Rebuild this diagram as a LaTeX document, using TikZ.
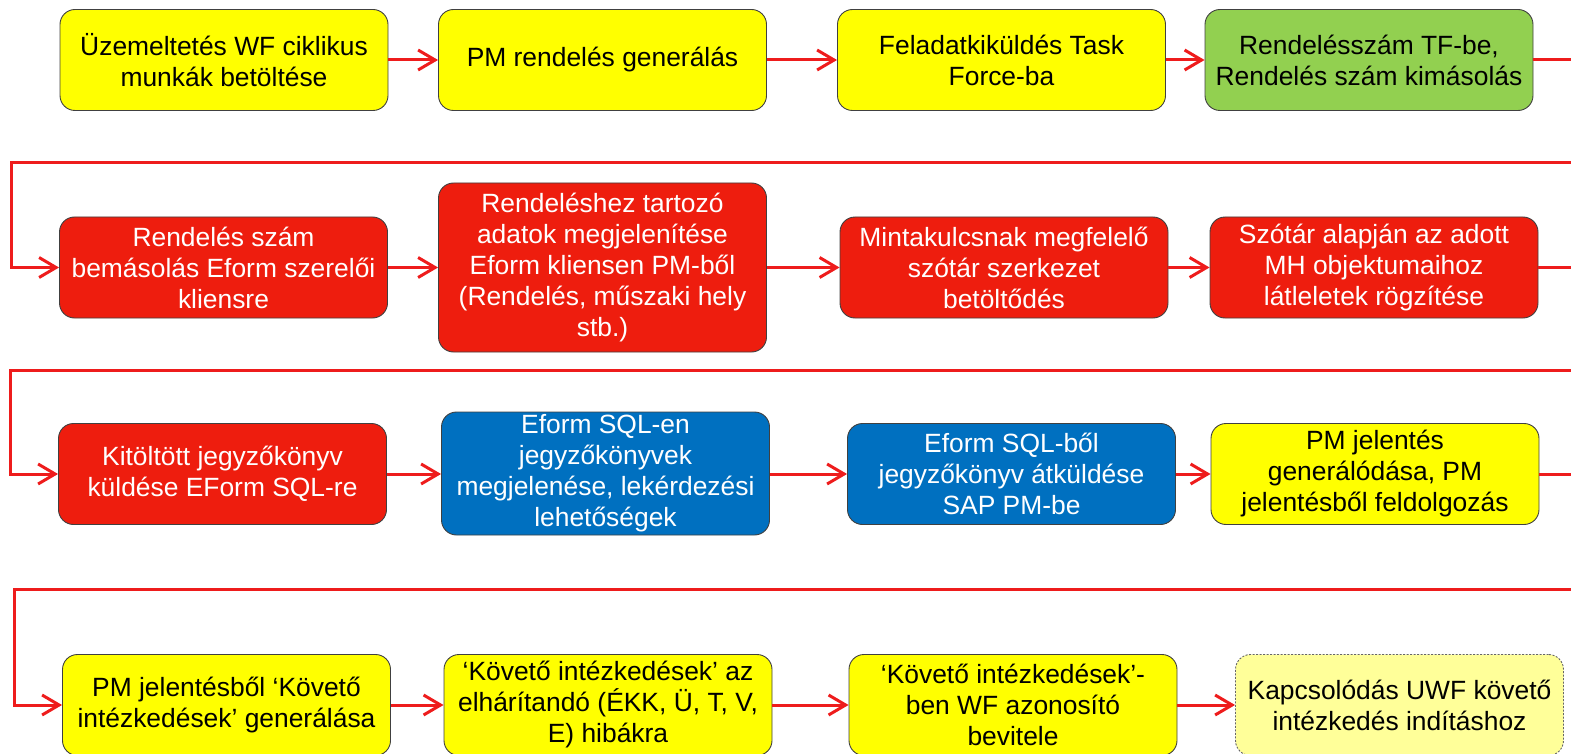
\documentclass[tikz,border=0pt]{standalone}
\usepackage{fontspec}
\setmainfont{Liberation Sans}
\usetikzlibrary{arrows.meta}
\definecolor{boxyellow}{HTML}{FFFF00}
\definecolor{boxpale}{HTML}{FFFF99}
\definecolor{boxgreen}{HTML}{92D050}
\definecolor{boxred}{HTML}{EE1D0E}
\definecolor{boxblue}{HTML}{0070C0}
\definecolor{boxline}{HTML}{404040}
\definecolor{flowred}{HTML}{EE1C1C}
\begin{document}
\begin{tikzpicture}[x=1pt,y=-1pt,
  box/.style={draw=boxline, line width=0.9pt, rounded corners=15pt,
    minimum width=328pt, minimum height=101pt, align=center, inner sep=0pt,
    font=\fontsize{26.4}{31}\selectfont},
  yel/.style={box, fill=boxyellow, text=black},
  pale/.style={box, fill=boxpale, text=black, draw=boxline!80,
    dash pattern=on 2pt off 1.5pt},
  grn/.style={box, fill=boxgreen, text=black},
  redbox/.style={box, fill=boxred, text=white},
  blu/.style={box, fill=boxblue, text=white},
  flow/.style={draw=flowred, line width=3pt,
    -{Straight Barb[length=17pt,width=20pt]}}]
\clip (0,0) rectangle (1571,754);

% first row
\node[yel] (A) at (224,60) {Üzemeltetés WF ciklikus\\munkák betöltése};
\node[yel] (B) at (602.5,60) {PM rendelés generálás};
\node[yel] (C) at (1001.5,60) {Feladatkiküldés Task\\Force-ba};
\node[grn] (D) at (1369,60) {Rendelésszám TF-be,\\Rendelés szám kimásolás};

% second row
\node[redbox] (E) at (223.5,267.5) {Rendelés szám\\bemásolás Eform szerelői\\kliensre};
\node[redbox, minimum height=169pt] (F) at (602.5,267.5)
  {Rendeléshez tartozó\\adatok megjelenítése\\Eform kliensen PM-ből\\(Rendelés, műszaki hely\\stb.)};
\node[redbox] (G) at (1004,267.5) {Mintakulcsnak megfelelő\\szótár szerkezet\\betöltődés};
\node[redbox] (H) at (1374,267.5) {Szótár alapján az adott\\MH objektumaihoz\\látleletek rögzítése};

% third row
\node[redbox] (I) at (222.5,474) {Kitöltött jegyzőkönyv\\küldése EForm SQL-re};
\node[blu, minimum height=123pt] (J) at (605.5,473.5)
  {Eform SQL-en\\jegyzőkönyvek\\megjelenése, lekérdezési\\lehetőségek};
\node[blu] (K) at (1011.5,474) {Eform SQL-ből\\jegyzőkönyv átküldése\\SAP PM-be};
\node[yel] (L) at (1375,474) {PM jelentés\\generálódása, PM\\jelentésből feldolgozás};

% fourth row
\node[yel] (M) at (226.5,705) {PM jelentésből ‘Követő\\intézkedések’ generálása};
\node[yel] (N) at (608,705) {‘Követő intézkedések’ az\\elhárítandó (ÉKK, Ü, T, V,\\E) hibákra};
\node[yel] (O) at (1013,705) {‘Követő intézkedések’-\\ben WF azonosító\\bevitele};
\node[pale] (P) at (1399.5,705) {Kapcsolódás UWF követő\\intézkedés indításhoz};

% row turn points
\coordinate (t1) at (1595,60);
\coordinate (w1) at (11,163);
\coordinate (t2) at (1595,267.5);
\coordinate (w2) at (10,370);
\coordinate (t3) at (1595,474);
\coordinate (w3) at (14,589);

% connectors
\draw[flow] (A) -- (B);
\draw[flow] (B) -- (C);
\draw[flow] (C) -- (D);
\draw[flow] (D.east) -- (t1) |- (w1) |- (E.west);
\draw[flow] (E) -- (F);
\draw[flow] (F) -- (G);
\draw[flow] (G) -- (H);
\draw[flow] (H.east) -- (t2) |- (w2) |- (I.west);
\draw[flow] (I.east) -- (I.east -| J.west);
\draw[flow] (J.east |- K.west) -- (K.west);
\draw[flow] (K) -- (L);
\draw[flow] (L.east) -- (t3) |- (w3) |- (M.west);
\draw[flow] (M) -- (N);
\draw[flow] (N) -- (O);
\draw[flow] (O) -- (P);
\end{tikzpicture}
\end{document}
